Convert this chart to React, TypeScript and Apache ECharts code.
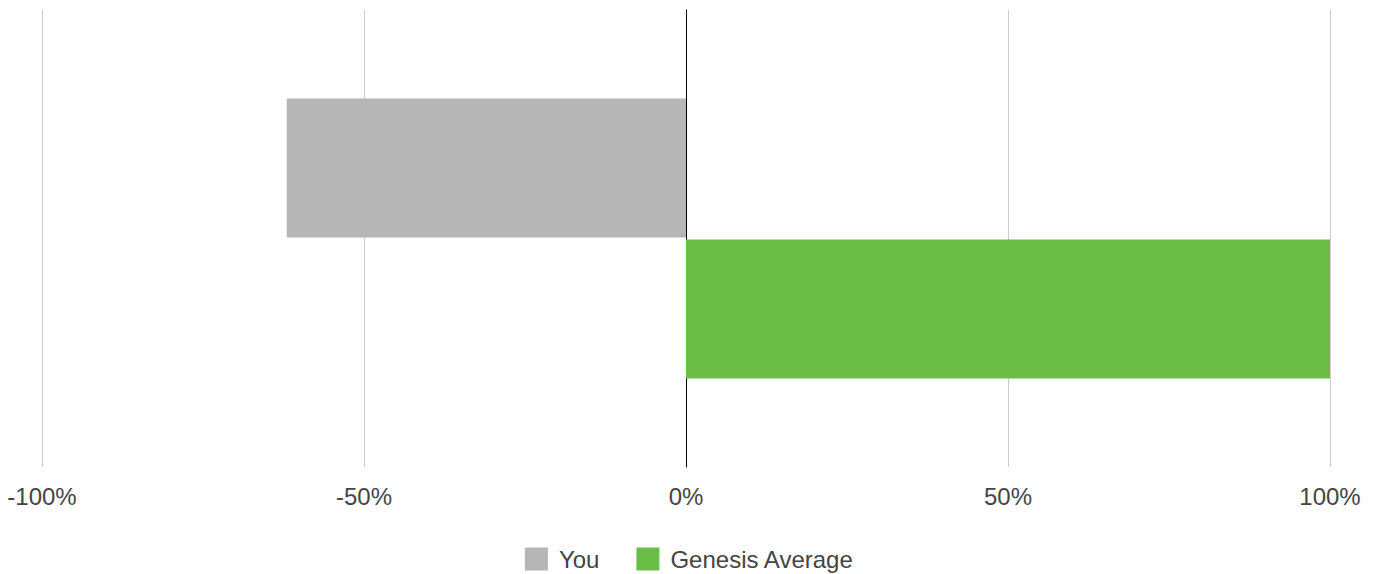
import React, { useEffect, useRef } from "react";
import * as echarts from "echarts";

const categories = ["Score"];
const youValues = [-62];
const genesisValues = [100];
const seriesNames = ["You", "Genesis Average"];
const tickMin = -100;
const tickMax = 100;
const tickInterval = 50;

export default function App() {
  const ref = useRef<HTMLDivElement>(null);
  useEffect(() => {
    if (!ref.current) return;
    const chart = echarts.init(ref.current, undefined, { renderer: "svg" });
    chart.setOption({
      animation: false,
      textStyle: { fontFamily: "Liberation Sans, Arial, sans-serif" },
      grid: { left: 42, right: 49, top: 10, bottom: 107, containLabel: false },
      legend: {
        top: 547,
        left: "center",
        padding: 0,
        data: seriesNames,
        icon: "rect",
        itemWidth: 23,
        itemHeight: 23,
        itemGap: 37,
        textStyle: {
          fontSize: 24,
          color: "#444",
          fontFamily: "Liberation Sans, Arial, sans-serif",
          padding: [0, 0, 0, 6],
        },
      },
      xAxis: {
        type: "value",
        min: tickMin,
        max: tickMax,
        interval: tickInterval,
        axisLine: { show: false },
        axisTick: { show: false },
        axisLabel: {
          formatter: (v: number) => `${v}%`,
          fontSize: 24,
          color: "#444",
          margin: 17,
        },
        splitLine: { show: true, lineStyle: { color: "#cccccc", width: 1 } },
      },
      yAxis: {
        type: "category",
        data: categories,
        inverse: true,
        axisLine: { show: true, onZero: true, lineStyle: { color: "#000", width: 1 } },
        axisTick: { show: false },
        axisLabel: { show: false },
        splitLine: { show: false },
      },
      series: [
        {
          name: seriesNames[0],
          type: "bar",
          data: youValues,
          barWidth: 139,
          barGap: "1.5%",
          itemStyle: { color: "#b5b6b5" },
        },
        {
          name: seriesNames[1],
          type: "bar",
          data: genesisValues,
          barWidth: 139,
          barGap: "1.5%",
          itemStyle: { color: "#6abd45" },
        },
      ],
    });
    return () => chart.dispose();
  }, []);
  return (
    <div
      ref={ref}
      style={{ position: "absolute", left: 0, top: 0, width: 1379, height: 574 }}
    />
  );
}
